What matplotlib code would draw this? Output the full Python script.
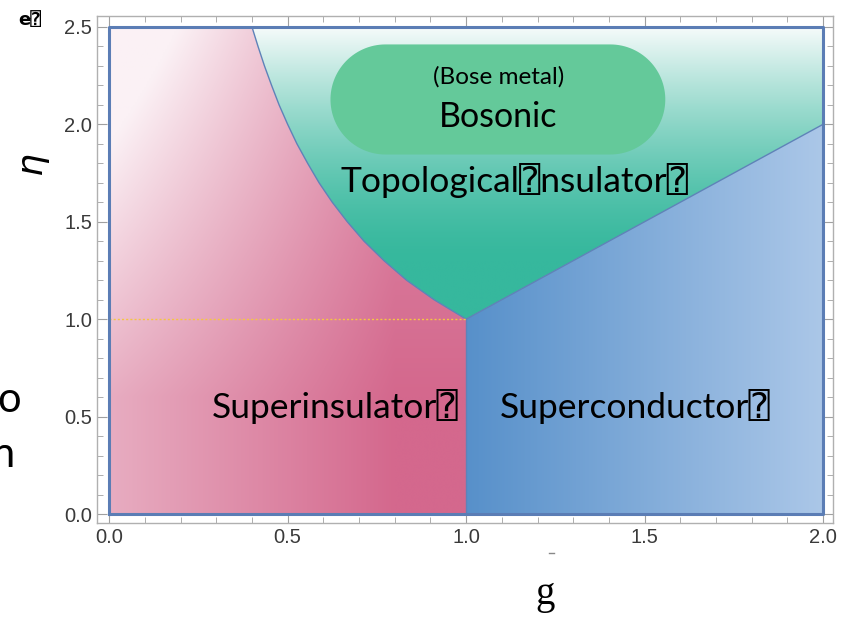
import matplotlib
matplotlib.use('Agg')
import matplotlib.pyplot as plt
import numpy as np
from matplotlib.patches import Polygon
from matplotlib.lines import Line2D
from matplotlib.ticker import MultipleLocator

# phase boundary (g vs eta)
eta_curve = [1.0, 1.1, 1.2, 1.3, 1.4, 1.5, 1.6, 1.7, 1.8, 1.9, 2.0, 2.1, 2.2, 2.3, 2.4, 2.5]
g_curve = [1.0, 0.91, 0.833, 0.77, 0.714, 0.667, 0.625, 0.588, 0.556, 0.526,
           0.50, 0.476, 0.455, 0.435, 0.417, 0.40]
# superconductor / topological insulator edge
edge_g = [1.0, 2.0]
edge_eta = [1.0, 2.0]
g_max = 2.0
eta_max = 2.5
dotted_eta = 1.0

labels = ['Superinsulator\u2370', 'Superconductor\u2370', 'Topological\u2370nsulator\u2370',
          'Bosonic', '(Bose metal)']
label_pos = [(0.633, 0.554), (1.473, 0.554), (1.134, 1.71), (1.09, 2.04), (1.09, 2.243)]
label_size = [25.5, 25.5, 25.5, 24.5, 17.5]
bose_box = (0.62, 1.845, 0.938, 0.565)  # x, y, w, h

txt_font = ['Lato', 'DejaVu Sans Mono', 'DejaVu Sans']


def hex2rgb(h):
    h = h.lstrip('#')
    return np.array([int(h[i:i + 2], 16) / 255 for i in (0, 2, 4)])


def region_image(ax, poly, rgb):
    img = ax.imshow(rgb, extent=(0, g_max, 0, eta_max), origin='lower',
                    aspect='auto', interpolation='bilinear', zorder=1)
    patch = Polygon(poly, closed=True, transform=ax.transData, facecolor='none')
    img.set_clip_path(patch)
    return img


fig = plt.figure(figsize=(8.46, 6.17), dpi=100)
ax = fig.add_axes([0.1147, 0.1524, 0.870, 0.8217])
xlim = (-0.034, 2.028)
ylim = (-0.046, 2.556)

gg, ee = np.meshgrid(np.linspace(0, g_max, 400), np.linspace(0, eta_max, 500))

# superinsulator: pink, fading to white towards top-left
pink = hex2rgb('#D4688D')
light = hex2rgb('#FBF1F5')
dx = np.clip(0.8 - gg, 0, None) / 0.8
dy = np.clip(ee - 0.6, 0, None) / 1.9
w = np.clip(0.5 * dx + 0.28 * dy + 0.45 * dx * dy, 0, 1)[..., None]
pink_img = pink * (1 - w) + light * w

# superconductor: blue, lighter to the right
blue0 = hex2rgb('#5790CA')
blue1 = hex2rgb('#ABC7E8')
t = np.clip((gg - 1.0) / 1.0, 0, 1)[..., None]
blue_img = blue0 * (1 - t) + blue1 * t

# topological insulator: teal fading to white upwards
teal = hex2rgb('#36B89D')
white = hex2rgb('#F7FBFB')
s = (np.clip((ee - 1.3) / 1.2, 0, 1) ** 1.5)[..., None]
green_img = teal * (1 - s) + white * s

pink_poly = [(0, 0), (1, 0)] + list(zip(g_curve, eta_curve)) + [(0, eta_max)]
blue_poly = [(1, 0), (g_max, 0)] + list(zip(edge_g[::-1], edge_eta[::-1]))
green_poly = list(zip(g_curve, eta_curve)) + [(g_max, eta_max)] + list(zip(edge_g[::-1], edge_eta[::-1]))

region_image(ax, pink_poly, pink_img)
region_image(ax, blue_poly, blue_img)
region_image(ax, green_poly, green_img)

# boundaries
bc = '#5F82B8'
ax.plot(g_curve, eta_curve, color=bc, lw=1.0, zorder=3)
ax.plot(edge_g, edge_eta, color=bc, lw=1.0, zorder=3)
ax.plot([1, 1], [0, 1], color=bc, lw=1.0, zorder=3)
ax.plot([0, g_max, g_max, 0, 0], [0, 0, eta_max, eta_max, 0], color='#5B7DB5', lw=2.2, zorder=4)
ax.plot([0, 1], [dotted_eta, dotted_eta], color='#F5C542', lw=1.0, ls=(0, (1.5, 1.5)), zorder=3)

# Bose metal pill (semicircular ends in screen space)
bx, by, bw, bh = bose_box
px_per_x = 0.870 * 846 / (xlim[1] - xlim[0])
px_per_y = 0.8217 * 617 / (ylim[1] - ylim[0])
ry = bh / 2
rx = ry * px_per_y / px_per_x
th = np.linspace(-np.pi / 2, np.pi / 2, 60)
right_end = np.column_stack([bx + bw - rx + rx * np.cos(th), by + ry + ry * np.sin(th)])
left_end = np.column_stack([bx + rx - rx * np.cos(th), by + ry - ry * np.sin(th)])
pill = Polygon(np.vstack([right_end, left_end]), closed=True, facecolor='#64C99A',
               edgecolor='none', zorder=5)
ax.add_patch(pill)

for lab, (x, y), fs in zip(labels, label_pos, label_size):
    ax.text(x, y, lab, fontsize=fs, family=txt_font, ha='center', va='center', zorder=6)

ax.set_xlim(*xlim)
ax.set_ylim(*ylim)

ax.xaxis.set_major_locator(MultipleLocator(0.5))
ax.xaxis.set_minor_locator(MultipleLocator(0.1))
ax.yaxis.set_major_locator(MultipleLocator(0.5))
ax.yaxis.set_minor_locator(MultipleLocator(0.1))
ax.xaxis.set_major_formatter(plt.FormatStrFormatter('%.1f'))
ax.yaxis.set_major_formatter(plt.FormatStrFormatter('%.1f'))
ax.tick_params(which='both', direction='in', top=True, right=True, color='#A0A0A0',
               labelsize=14.5, labelcolor='#3A3A3A')
ax.tick_params(which='major', length=7, width=0.8)
ax.tick_params(which='minor', length=4, width=0.6)
for lbl in ax.get_xticklabels() + ax.get_yticklabels():
    lbl.set_family('Liberation Sans')
for sp in ax.spines.values():
    sp.set_color('#B0B0B0')
    sp.set_linewidth(1.0)

ax.set_xlabel('g', fontsize=28, family='Liberation Serif')
ax.xaxis.set_label_coords(0.609, -0.105)
ax.set_ylabel(r'$\eta$', fontsize=26)
ax.yaxis.set_label_coords(-0.061, 0.706)

fig.text(0.022, 0.967, 'e\u2370', fontsize=13, weight='bold', family=['DejaVu Sans', 'DejaVu Sans Mono'],
         ha='left', va='center')
fig.text(0.025, 0.352, 'o', fontsize=30, family=txt_font, ha='right', va='center')
fig.text(0.017, 0.262, 'n', fontsize=30, family=txt_font, ha='right', va='center')
fig.add_artist(Line2D([0.649, 0.655], [0.104, 0.104], color='#888888', lw=1.0))

fig.savefig('out.png', dpi=100)
